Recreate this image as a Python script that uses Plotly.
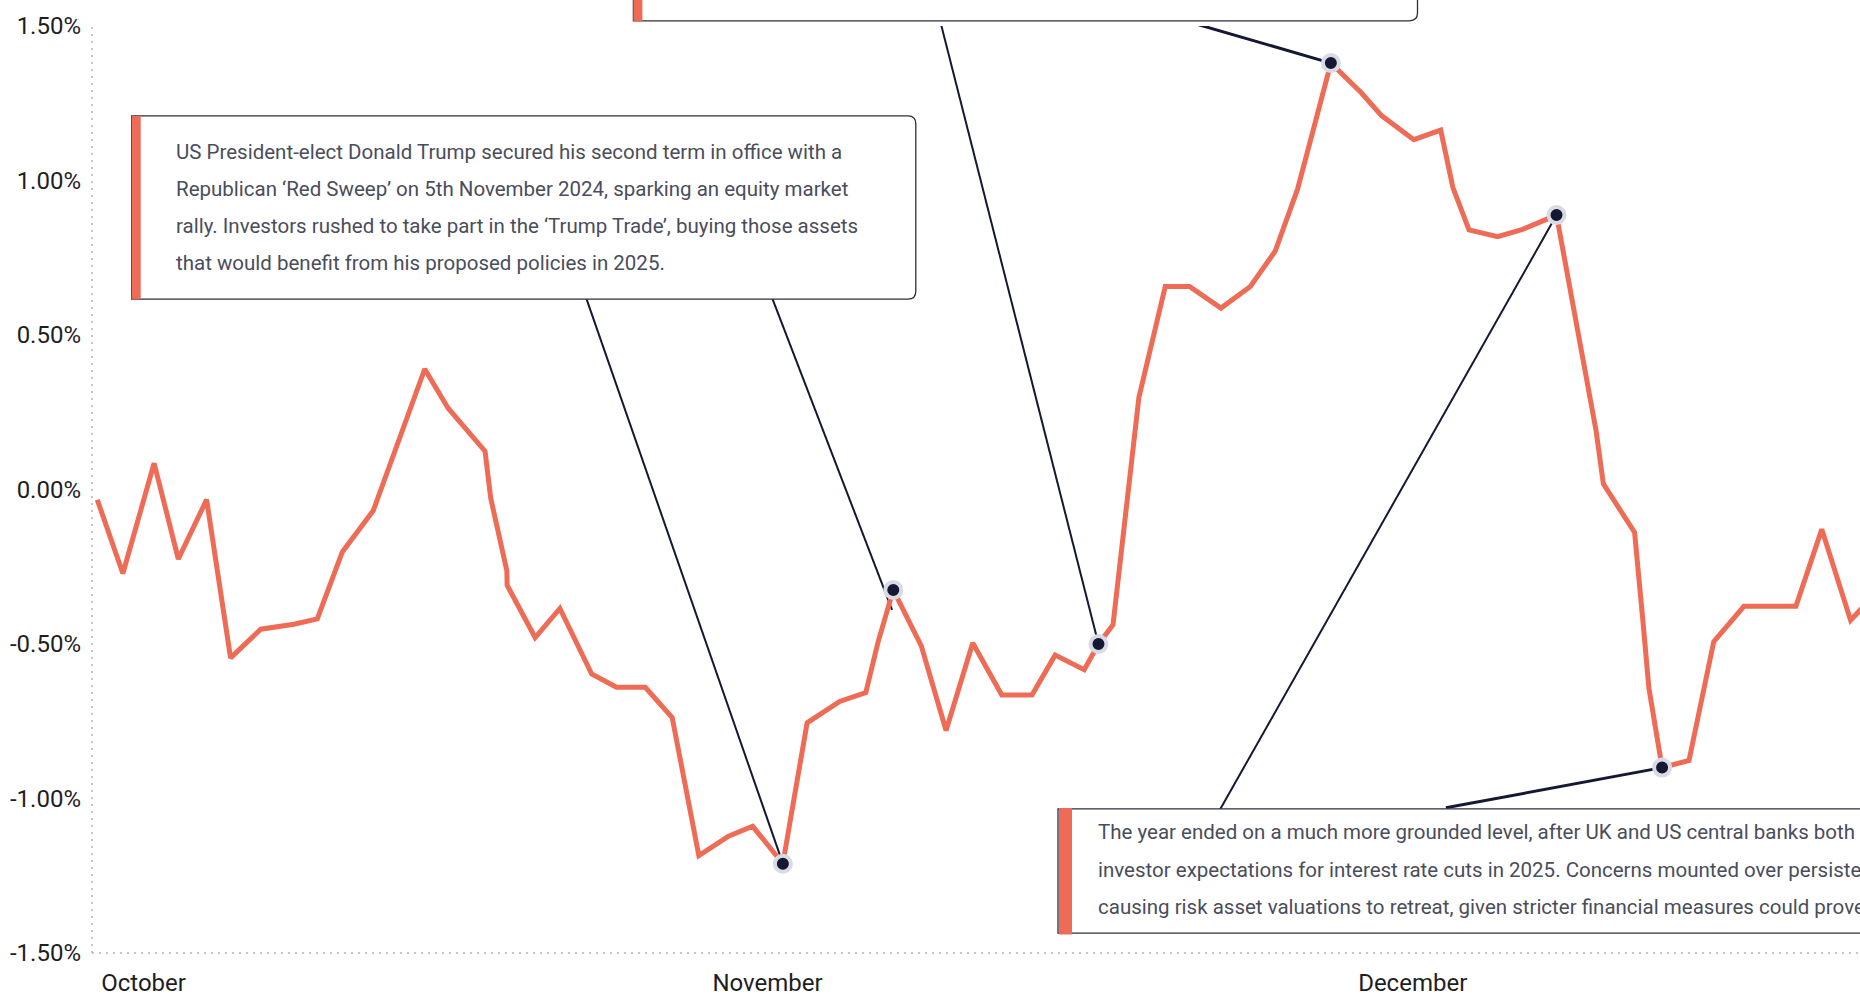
import plotly.graph_objects as go

# ---------------- data ----------------
# position along the time axis (trading-day units, 0 = first observation)
x_pos = [0, 0.95, 2.11, 3.01, 4.06, 4.95, 6.07, 7.30, 8.17, 9.10,
         10.25, 12.16, 13.03, 14.40, 14.61, 15.21, 15.22, 16.26, 17.18, 18.36,
         19.28, 20.35, 21.35, 22.34, 23.44, 24.34, 25.46, 26.36, 27.57, 28.54,
         29.00, 29.56, 30.60, 31.52, 32.51, 33.59, 34.71, 35.57, 36.65, 37.18,
         37.72, 38.68, 39.66, 40.56, 41.73, 42.82, 43.74, 44.57, 45.14, 45.81,
         46.94, 47.69, 48.89, 49.89, 50.34, 50.94, 52.00, 52.93, 54.19, 54.78,
         55.26, 55.66, 55.93, 57.09, 57.40, 57.62, 58.11, 59.11, 60.03, 61.15,
         63.08, 64.04, 65.11, 66.12]
# cumulative return, %
pct = [-0.033, -0.272, 0.085, -0.225, -0.033, -0.545, -0.452, -0.436, -0.419, -0.202,
       -0.068, 0.39, 0.263, 0.124, -0.028, -0.263, -0.31, -0.479, -0.385, -0.597,
       -0.640, -0.640, -0.738, -1.185, -1.122, -1.09, -1.211, -0.755, -0.686, -0.657,
       -0.492, -0.325, -0.506, -0.78, -0.497, -0.665, -0.665, -0.536, -0.583, -0.50,
       -0.438, 0.297, 0.657, 0.657, 0.587, 0.657, 0.771, 0.971, 1.158, 1.380,
       1.284, 1.210, 1.132, 1.163, 0.978, 0.840, 0.818, 0.842, 0.888, 0.605,
       0.376, 0.190, 0.018, -0.139, -0.427, -0.642, -0.90, -0.877, -0.492, -0.378,
       -0.378, -0.129, -0.423, -0.33]
# highlighted observations (indices into the series)
marker_idx = [26, 31, 39, 49, 58, 66]

month_labels = ["October", "November", "December"]
month_pos = [1.72, 24.89, 48.85]
y_ticks = [-1.5, -1.0, -0.5, 0.0, 0.5, 1.0, 1.5]
y_tick_labels = ["-1.50%", "-1.00%", "-0.50%", "0.00%", "0.50%", "1.00%", "1.50%"]

note1_lines = [
    "US President-elect Donald Trump secured his second term in office with a",
    "Republican \u2018Red Sweep\u2019 on 5th November 2024, sparking an equity market",
    "rally. Investors rushed to take part in the \u2018Trump Trade\u2019, buying those assets",
    "that would benefit from his proposed policies in 2025.",
]
note3_lines = [
    "The year ended on a much more grounded level, after UK and US central banks both",
    "investor expectations for interest rate cuts in 2025. Concerns mounted over persistent",
    "causing risk asset valuations to retreat, given stricter financial measures could prove",
]

# ---------------- styling ----------------
W, H = 1860, 997
ML, MR, MT, MB = 92, 0, 26, 41
PW, PH = W - ML - MR, H - MT - MB
CORAL = "#EE6B56"
NAVY = "#151833"
RING = "#d9dbe4"
AXIS_DOT = "#c6c6c6"
TEXT = "#4a4d5b"
FONT = "Roboto"


def px(x):
    return (x - ML) / PW


def py(y):
    return (H - MB - y) / PH


fig = go.Figure()
fig.add_trace(go.Scatter(x=x_pos, y=pct, mode="lines",
                         line=dict(color=CORAL, width=5), hoverinfo="skip"))
fig.add_trace(go.Scatter(x=[x_pos[i] for i in marker_idx],
                         y=[pct[i] for i in marker_idx], mode="markers",
                         marker=dict(size=16, color=NAVY, line=dict(color=RING, width=4)),
                         cliponaxis=False, hoverinfo="skip"))

shapes = []
# dotted axis lines
shapes.append(dict(type="line", xref="paper", yref="paper", x0=0, x1=0, y0=0, y1=1,
                   line=dict(color=AXIS_DOT, width=2, dash="2px,5px"), layer="below"))
shapes.append(dict(type="line", xref="paper", yref="paper", x0=0, x1=1, y0=0, y1=0,
                   line=dict(color=AXIS_DOT, width=2, dash="2px,5px"), layer="below"))

# connectors: (marker index, start offset dx, dy (px, up positive), end offset, width)
connectors = [
    (26, -196.9, 566.4, 0, 0, 2),
    (31, -121.1, 291.8, -1.2, -19.9, 2),
    (39, -159.0, 625.8, 0, 0, 2),
    (49, -148.3, 43.0, 0, 0, 3),
    (58, -337.2, -595.7, 0, 0, 2),
    (66, -216.2, -40.2, 0, 0, 3),
]
for i, dx, dy, ex, ey, w in connectors:
    shapes.append(dict(type="line", xref="x", yref="y", xsizemode="pixel", ysizemode="pixel",
                       xanchor=x_pos[i], yanchor=pct[i], x0=dx, y0=dy, x1=ex, y1=ey,
                       line=dict(color=NAVY, width=w), layer="below"))


def rounded_box(l, t, r, b, rad, corners):
    p = f"M {px(l)},{py(t)} "
    if "tr" in corners:
        p += f"L {px(r - rad)},{py(t)} Q {px(r)},{py(t)} {px(r)},{py(t + rad)} "
    else:
        p += f"L {px(r)},{py(t)} "
    if "br" in corners:
        p += f"L {px(r)},{py(b - rad)} Q {px(r)},{py(b)} {px(r - rad)},{py(b)} "
    else:
        p += f"L {px(r)},{py(b)} "
    p += f"L {px(l)},{py(b)} Z"
    return p


BORDER = dict(color="#2b2e3b", width=1.3)
# box 1
shapes.append(dict(type="path", xref="paper", yref="paper",
                   path=rounded_box(131.7, 116.2, 915.8, 300.1, 8, {"tr", "br"}),
                   fillcolor="white", line=BORDER, layer="above"))
shapes.append(dict(type="rect", xref="paper", yref="paper", x0=px(131.7), x1=px(140.7),
                   y0=py(300.1), y1=py(116.2), fillcolor=CORAL, line=dict(width=0), layer="above"))
# box 2 (mostly above the visible area)
shapes.append(dict(type="path", xref="paper", yref="paper",
                   path=rounded_box(633.4, -150, 1417.5, 20.8, 8, {"br"}),
                   fillcolor="white", line=BORDER, layer="above"))
shapes.append(dict(type="rect", xref="paper", yref="paper", x0=px(633.4), x1=px(642.4),
                   y0=py(21.5), y1=py(-150), fillcolor=CORAL, line=dict(width=0), layer="above"))
# box 3 (runs past the right edge)
shapes.append(dict(type="rect", xref="paper", yref="paper", x0=px(1058), x1=px(2300),
                   y0=py(936), y1=py(811.4), fillcolor="white", line=BORDER, layer="above"))
shapes.append(dict(type="rect", xref="paper", yref="paper", x0=px(1059), x1=px(1072),
                   y0=py(937.5), y1=py(810.5), fillcolor=CORAL, line=dict(width=0), layer="above"))

annotations = []
for k, line in enumerate(note1_lines):
    annotations.append(dict(xref="paper", yref="paper", x=px(174), y=py(152 + 37.2 * k),
                            xanchor="left", yanchor="middle", text=line, showarrow=False,
                            font=dict(family=FONT, size=20.5, color=TEXT)))
for k, line in enumerate(note3_lines):
    annotations.append(dict(xref="paper", yref="paper", x=px(1096), y=py(835 + 37.3 * k),
                            xanchor="left", yanchor="middle", text=line, showarrow=False,
                            font=dict(family=FONT, size=20.5, color=TEXT)))

fig.update_layout(
    width=W, height=H, margin=dict(l=ML, r=MR, t=MT, b=MB),
    paper_bgcolor="white", plot_bgcolor="white", showlegend=False,
    font=dict(family=FONT, size=24, color="#1e1e1e"),
    shapes=shapes, annotations=annotations,
    xaxis=dict(range=[-0.196, 65.46], tickvals=month_pos, ticktext=month_labels,
               showgrid=False, zeroline=False, showline=False, ticks="",
               ticklabelstandoff=13, tickfont=dict(size=24, color="#1e1e1e")),
    yaxis=dict(range=[-1.5, 1.5], tickvals=y_ticks, ticktext=y_tick_labels,
               showgrid=False, zeroline=False, showline=False, ticks="",
               ticklabelstandoff=10, tickfont=dict(size=24, color="#1e1e1e")),
)

fig.write_html("out.html", config={"displayModeBar": False},
               post_script="document.body.style.margin='0';document.body.style.overflow='hidden';")
